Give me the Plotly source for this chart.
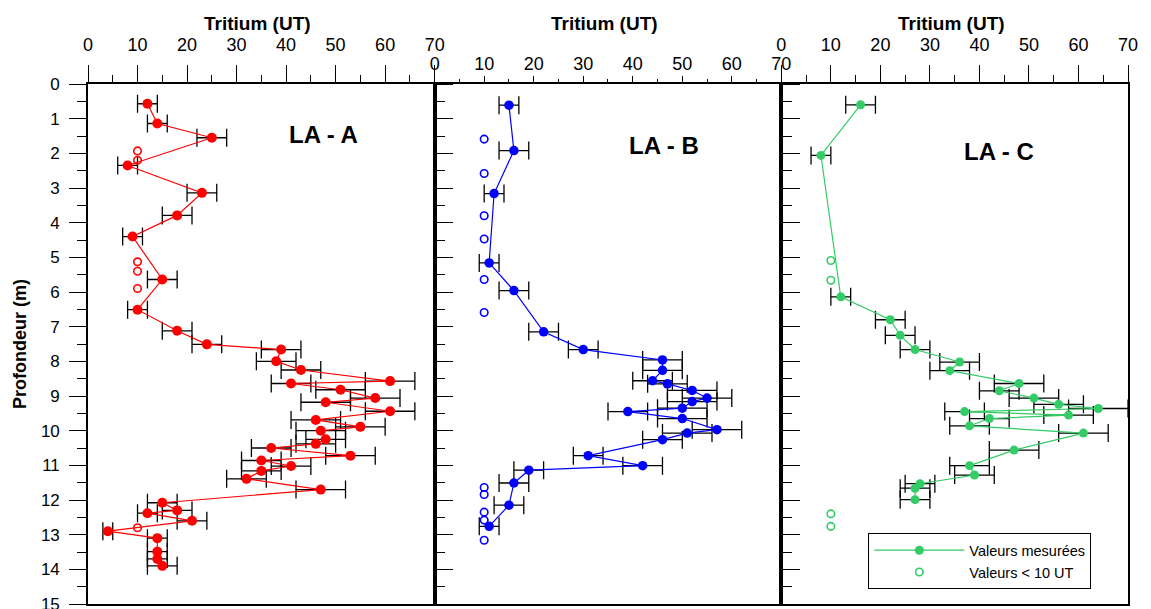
import plotly.graph_objects as go

# ---------------- data ----------------
# LA - A : measured values
a_depth = [0.57, 1.14, 1.55, 2.35, 3.14, 3.79, 4.40, 5.64, 6.51, 7.12, 7.51, 7.66, 8.00, 8.25,
           8.57, 8.64, 8.82, 9.06, 9.18, 9.44, 9.69, 9.89, 10.00, 10.25, 10.38, 10.50, 10.72,
           10.86, 11.02, 11.16, 11.39, 11.70, 12.08, 12.30, 12.38, 12.60, 12.90, 13.10, 13.49,
           13.70, 13.90]
a_trit = [12, 14, 25, 8, 23, 18, 9, 15, 10, 18, 24, 39, 38, 43,
          61, 41, 51, 58, 48, 61, 46, 55, 47, 48, 46, 37, 53,
          35, 41, 35, 32, 47, 15, 18, 12, 21, 4, 14, 14,
          14, 15]
a_err = [2, 2, 3, 2, 3, 3, 2, 3, 2, 3, 3, 4, 4, 4,
         5, 4, 5, 5, 5, 5, 5, 5, 5, 4, 4, 4, 5,
         4, 4, 4, 4, 5, 3, 3, 2, 3, 1, 2, 2,
         2, 3]
# LA - A : values < 10 UT
a_low_depth = [1.93, 2.20, 5.13, 5.40, 5.90, 12.80]
a_low_trit = [10, 10, 10, 10, 10, 10]

# LA - B : measured values
b_depth = [0.61, 1.92, 3.16, 5.16, 5.96, 7.15, 7.66, 7.96, 8.26, 8.56, 8.65, 8.84, 9.06,
           9.16, 9.35, 9.45, 9.65, 9.97, 10.07, 10.26, 10.72, 11.01, 11.14, 11.51, 12.15, 12.76]
b_trit = [15, 16, 12, 11, 16, 22, 30, 46, 46, 44, 47, 52, 55,
          52, 50, 39, 50, 57, 51, 46, 31, 42, 19, 16, 15, 11]
b_err = [2, 3, 2, 2, 3, 3, 3, 4, 4, 4, 4, 5, 5,
         5, 5, 4, 5, 5, 5, 4, 3, 4, 3, 3, 3, 2]
# LA - B : values < 10 UT
b_low_depth = [1.59, 2.58, 3.80, 4.47, 5.64, 6.59, 11.64, 11.84, 12.35, 12.58, 13.16]
b_low_trit = [10, 10, 10, 10, 10, 10, 10, 10, 10, 10, 10]

# LA - C : measured values
c_depth = [0.60, 2.06, 6.14, 6.80, 7.25, 7.66, 8.02, 8.27, 8.64, 8.85, 9.06, 9.24, 9.36,
           9.45, 9.55, 9.65, 9.86, 10.07, 10.56, 11.01, 11.28, 11.53, 11.66, 11.99]
c_trit = [16, 8, 12, 22, 24, 27, 36, 34, 48, 44, 51, 56, 64,
          37, 58, 42, 38, 61, 47, 38, 39, 28, 27, 27]
c_err = [3, 2, 2, 3, 3, 3, 4, 4, 5, 4, 5, 5, 6,
         4, 5, 4, 4, 5, 5, 4, 4, 3, 3, 3]
# LA - C : values < 10 UT
c_low_depth = [5.09, 5.66, 12.40, 12.76]
c_low_trit = [10, 10, 10, 10]

panel_names = ["LA - A", "LA - B", "LA - C"]
legend_names = ["Valeurs mesurées", "Valeurs < 10 UT"]
x_title = "Tritium (UT)"
y_title = "Profondeur (m)"

# ---------------- styling ----------------
FONT = "Liberation Sans, Arial, sans-serif"
RED = "#FF0000"
BLUE = "#0000FF"
GREEN = "#33CC66"

panels = [
    dict(xa="x", ya="y", depth=a_depth, trit=a_trit, err=a_err,
         ld=a_low_depth, lt=a_low_trit, color=RED, msize=10, legend=False),
    dict(xa="x2", ya="y2", depth=b_depth, trit=b_trit, err=b_err,
         ld=b_low_depth, lt=b_low_trit, color=BLUE, msize=9.5, legend=False),
    dict(xa="x3", ya="y3", depth=c_depth, trit=c_trit, err=c_err,
         ld=c_low_depth, lt=c_low_trit, color=GREEN, msize=9, legend=True),
]

fig = go.Figure()
for p in panels:
    fig.add_trace(go.Scatter(
        x=p["trit"], y=p["depth"], xaxis=p["xa"], yaxis=p["ya"],
        mode="lines+markers", name=legend_names[0], showlegend=p["legend"],
        line=dict(color=p["color"], width=1.2),
        marker=dict(color=p["color"], size=p["msize"]),
        error_x=dict(type="data", array=p["err"], symmetric=True,
                     color="black", thickness=1.3, width=9),
    ))
    fig.add_trace(go.Scatter(
        x=p["lt"], y=p["ld"], xaxis=p["xa"], yaxis=p["ya"],
        mode="markers", name=legend_names[1], showlegend=p["legend"],
        marker=dict(symbol="circle-open", color=p["color"], size=7.5,
                    line=dict(width=1.6, color=p["color"])),
    ))

common_x = dict(range=[0, 70], side="top", ticks="outside", tickwidth=1.2,
                tickcolor="black", dtick=10, tick0=0, showline=True,
                linecolor="black", linewidth=1.6, mirror=True, showgrid=False,
                zeroline=False, tickfont=dict(family=FONT, size=18, color="black"),
                ticklabeloverflow="allow", automargin=False)
common_y = dict(range=[15, 0], showline=True, linecolor="black", linewidth=1.6,
                showgrid=False, zeroline=False, tickcolor="black", tickwidth=1.2,
                dtick=1, tick0=0, automargin=False)

doms = [[0, 1 / 3], [1 / 3, 2 / 3], [2 / 3, 1]]
fig.update_layout(
    xaxis=dict(common_x, domain=doms[0], anchor="y", ticklen=17, ticklabelstandoff=7,
               minor=dict(dtick=5, ticklen=7.5, ticks="outside", tickcolor="black", tickwidth=1.2)),
    xaxis2=dict(common_x, domain=doms[1], anchor="y2", ticklen=6, ticklabelstandoff=-1,
                minor=dict(dtick=5, ticklen=3, ticks="outside", tickcolor="black", tickwidth=1.2)),
    xaxis3=dict(common_x, domain=doms[2], anchor="y3", ticklen=17, ticklabelstandoff=7,
                minor=dict(dtick=5, ticklen=7.5, ticks="outside", tickcolor="black", tickwidth=1.2)),
    yaxis=dict(common_y, anchor="x", side="left", ticks="outside", ticklen=17,
               mirror="ticks", ticklabelstandoff=6, ticklabeloverflow="allow",
               tickfont=dict(family=FONT, size=17, color="black"),
               minor=dict(dtick=0.5, ticklen=9, ticks="outside", tickcolor="black", tickwidth=1.2)),
    yaxis2=dict(common_y, anchor="x2", side="right", ticks="outside", ticklen=17,
                mirror=True, showticklabels=False,
                minor=dict(dtick=0.5, ticklen=9, ticks="outside", tickcolor="black", tickwidth=1.2)),
    yaxis3=dict(common_y, anchor="x3", side="right", ticks="", mirror=True,
                showticklabels=False),
    width=1151, height=609,
    margin=dict(l=88, r=23, t=84, b=5, autoexpand=False),
    paper_bgcolor="white", plot_bgcolor="white",
    font=dict(family=FONT, color="black"),
    showlegend=True,
    legend=dict(x=0.7503, y=0.136, xanchor="left", yanchor="top",
                bordercolor="black", borderwidth=1, bgcolor="white",
                font=dict(family=FONT, size=14.5, color="black"),
                itemwidth=90, tracegroupgap=0),
)

annotations = []
title_x = ["x domain", "x2 domain", "x3 domain"]
for xr in title_x:
    annotations.append(dict(text="<b>" + x_title + "</b>", xref=xr, x=0.49, yref="paper", y=1,
                            yanchor="middle", xanchor="center", yshift=61, showarrow=False,
                            font=dict(family=FONT, size=19, color="black")))
label_pos = [(0.680, 0.903), (0.662, 0.882), (0.627, 0.871)]
for (xr, yr), name, (lx, ly) in zip([("x domain", "y domain"), ("x2 domain", "y2 domain"),
                                      ("x3 domain", "y3 domain")], panel_names, label_pos):
    annotations.append(dict(text="<b>" + name + "</b>", xref=xr, yref=yr, x=lx, y=ly,
                            xanchor="center", yanchor="middle", showarrow=False,
                            font=dict(family=FONT, size=24, color="black")))
annotations.append(dict(text="<b>" + y_title + "</b>", xref="paper", x=0, xshift=-68,
                        yref="paper", y=0.5, textangle=-90, xanchor="center",
                        yanchor="middle", showarrow=False,
                        font=dict(family=FONT, size=18, color="black")))
fig.update_layout(annotations=annotations)

fig.write_html("out.html")
